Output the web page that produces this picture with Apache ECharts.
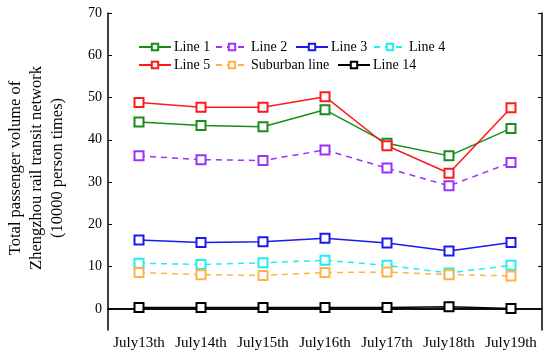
<!DOCTYPE html>
<html>
<head>
<meta charset="utf-8">
<script src="https://cdn.jsdelivr.net/npm/echarts@6/dist/echarts.min.js"></script>
<style>html,body{margin:0;padding:0;background:#fff;}#c{width:550px;height:357px;}</style>
</head>
<body>
<div id="c"></div>
<script>
const categories = ['July13th','July14th','July15th','July16th','July17th','July18th','July19th'];
const yTicks = [0,10,20,30,40,50,60,70];
const line1 = [44.2,43.4,43.1,47.1,39.2,36.2,42.7];
const line2 = [36.2,35.3,35.1,37.6,33.3,29.1,34.6];
const line3 = [16.3,15.7,15.9,16.7,15.6,13.7,15.7];
const line4 = [10.8,10.5,10.9,11.5,10.3,8.5,10.3];
const line5 = [48.8,47.7,47.7,50.2,38.6,32.1,47.6];
const suburban = [8.6,8.1,7.9,8.6,8.7,8.1,7.8];
const line14 = [0.3,0.3,0.3,0.3,0.3,0.5,0.1];
const seriesNames = ['Line 1','Line 2','Line 3','Line 4','Line 5','Suburban line','Line 14'];

const FONT = 'Liberation Serif';
const colors = ['#1a8c1a','#9b30ff','#1a1aee','#22eeee','#ff1a1a','#ffb347','#000000'];
const dashed = [false,true,false,true,false,true,false];
const dataSets = [line1,line2,line3,line4,line5,suburban,line14];
const legendPos = [[138,40],[215,40],[295,40],[373,40],[138,58],[215,58],[337,58]];

const chart = echarts.init(document.getElementById('c'));
const series = seriesNames.map((n,i)=>({
  name:n, type:'line', data:dataSets[i],
  symbol:'emptyRect', symbolSize:9,
  lineStyle:{color:colors[i], width:1.5, type: dashed[i]?[6,5]:'solid'},
  itemStyle:{color:colors[i], borderWidth:1.5},
  animation:false
}));
const legends = seriesNames.map((n,i)=>({
  data:[n], left:legendPos[i][0], top:legendPos[i][1], padding:0,
  itemWidth:32, itemHeight:8, itemGap:0,
  textStyle:{fontFamily:FONT, fontSize:14, color:'#000', padding:[0,0,0,-2]}
}));
chart.setOption({
  backgroundColor:'#fff',
  animation:false,
  grid:{left:108, right:8, top:13, bottom:27},
  legend:legends,
  xAxis:[{
    type:'category', data:categories, boundaryGap:true,
    axisLine:{lineStyle:{color:'#000', width:1.5}},
    axisTick:{inside:true, alignWithLabel:true, length:4, lineStyle:{color:'#000'}},
    axisLabel:{fontFamily:FONT, fontSize:15, color:'#000', margin:6, interval:0}
  },{
    type:'category', data:categories, boundaryGap:true, position:'top',
    axisLine:{lineStyle:{color:'#000', width:1.5}},
    axisTick:{inside:true, alignWithLabel:true, length:4, lineStyle:{color:'#000'}},
    axisLabel:{show:false}
  }],
  yAxis:[{
    type:'value', min:-5, max:70,
    axisLine:{show:true, lineStyle:{color:'#000', width:1.5}},
    axisTick:{show:true, inside:true, length:4, customValues:yTicks, lineStyle:{color:'#000'}},
    axisLabel:{fontFamily:FONT, fontSize:14, color:'#000', customValues:yTicks, margin:6},
    splitLine:{show:false}
  },{
    type:'value', min:-5, max:70, position:'right',
    axisLine:{show:true, lineStyle:{color:'#000', width:1.5}},
    axisTick:{show:true, inside:true, length:4, customValues:yTicks, lineStyle:{color:'#000'}},
    axisLabel:{show:false},
    splitLine:{show:false}
  }],
  graphic:[{
    type:'text', x:37, y:168, rotation:Math.PI/2,
    style:{
      text:'Total passenger volume of\nZhengzhou rail transit network\n(10000 person times)',
      font:'16.5px "Liberation Serif"', fill:'#000',
      align:'center', verticalAlign:'middle', lineHeight:21
    }
  }],
  series:series
});
</script>
</body>
</html>
